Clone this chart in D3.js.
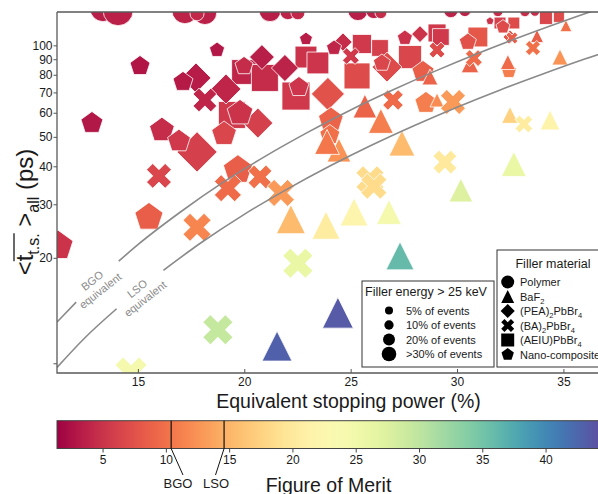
<!DOCTYPE html>
<html><head><meta charset="utf-8">
<script src="https://cdn.jsdelivr.net/npm/d3@7"></script>
<style>
body{margin:0;background:#fff}
svg{display:block}
text{font-family:"Liberation Sans",Arial,Helvetica,sans-serif;fill:#1a1a1a}
</style>
</head><body>
<svg id="c" width="598" height="494"></svg>
<script>
// ---- data: [equivalent stopping power %, <t> ps, figure of merit, % events > 25 keV] ----
const polymer = [
 [13.36,132,3.5,24],[14.07,130,3.6,32],[17.21,130,3.8,24],[18.15,128,3.6,20],[17.78,127,4.2,7],
 [21.21,130,3.5,17],[22.05,129,3.8,9],[22.52,128,4.2,7],[25.34,130,3.5,14],[26.09,130,3.7,9],
 [26.42,128,4.5,5],[29.71,130,3.8,7],[30.37,130,3.8,5],[31.92,129,4.5,3.5],[33.19,129,4.5,3.5],[33.66,129,4.5,3]
];
const aeiu = [
 [19.99,81.7,4,22],[20.97,78.1,4.5,26],[22.90,91.5,5,17],[23.46,87.5,5.2,17],[22.43,68.1,5.5,28],
 [25.30,79.3,7,24],[25.53,101,5.5,13],[26.38,98.0,6,10],[27.79,91.5,6.5,19],[29.06,109.8,5.5,11.5],
 [29.24,106.5,5.5,10],[30.98,106.5,8,14],[32.02,118.4,6,5],[32.67,118.4,7,5],[34.18,123,6.5,6],
 [34.79,124,7,4.3],[19.42,59.0,5.5,26]
];
const pea = [
 [17.78,44.6,6,29],[19.14,71.8,4,16],[17.73,78.1,3.3,16],[20.83,91.5,3.5,11],[21.91,84.2,3.8,13],
 [20.64,55.5,6,16],[23.93,69.2,7.5,19.5],[24.64,102.5,4.5,6],[26.71,84.8,7,16],[28.26,108.9,5,5],[32.49,106.5,8,3.5]
];
const nano = [
 [15.10,85.5,2.8,15.7],[12.84,55.5,3,19],[11.25,21.9,5,35],[15.52,27.2,8.5,31],[16.13,52.6,4.5,24],
 [16.93,48.4,5.5,20.5],[19.05,51.1,6.5,24],[19.70,38.9,8.5,33],[19.80,59.9,5,26],[18.72,96.5,3,9],
 [22.90,104.9,3.5,6.7],[17.12,75.8,3.2,15.7],[19.99,85.5,4.5,13],[22.57,72.9,5.2,15.7],[24.22,98.0,4,9],
 [26.47,87.5,6.5,11.5],[24.07,56.8,9,24],[24.02,50.7,10,15.7],[27.55,105.7,5,9],[28.40,81.7,8.5,19],
 [28.54,64.6,11,19],[30.51,102.5,7.5,11.5],[31.55,120.2,5,2.5],[32.16,114.9,7,7.8],[32.44,82.3,11,9]
];
const baf2 = [
 [22.19,26.8,15.5,30],[23.84,25.6,20.5,28],[25.16,28.3,22,28],[26.80,28.3,24.5,22],[27.32,20.3,36,28],
 [24.40,13.2,43.5,34],[21.54,10.25,43,32],[30.18,33.4,27.5,20],[32.67,40.7,26,22],[34.37,56.8,21.5,14],
 [32.49,59.0,17.5,10],[27.41,47.7,15.5,24],[24.45,45.2,12.5,20],[23.89,48.1,10.5,22],[25.67,63.1,9,20],
 [26.42,56.4,11,22],[28.73,78.7,9,9],[29.06,66.1,12,7],[30.61,86.8,9,11],[32.39,88.1,9.5,8],
 [33.76,107.3,8.5,6],[34.84,91.5,12.5,9],[35.12,116,10,5]
];
const ba = [
 [15.99,37.2,6.5,22],[17.78,25.2,11.5,28],[19.23,33.9,9.5,26],[20.74,36.9,10,20],[21.72,32.7,13,26],
 [25.91,36.1,18.5,28],[26.09,34.4,18.5,24],[22.52,19.2,26,32],[18.76,11.6,29.5,32],[14.68,8.36,24.5,36],
 [18.15,66.1,4,20],[25.01,92.2,5.5,10],[26.99,66.1,9.5,15],[29.81,65.1,13,22],[29.06,96.5,7,9],
 [30.79,90.8,9.5,10],[32.58,105.7,8.5,5],[33.57,98.0,10,8],[29.43,41.3,20,20],[33.14,55.1,20.5,11]
];
// reference curves, null = gap for label
const bgoX = [11.2,12.1,null,14.1,15,17,19,21,23,25,27,29,31,33,35,37,38.6];
const bgoY = [12.3,14.3,null,19.5,22.1,28.3,35.4,43.2,51.8,61.3,71.4,82.4,94.2,106.7,120,134.2,146];
const lsoX = [11.2,12.5,14.0,null,16.2,18,20,22,24,26,28,30,32,34,36,38.6];
const lsoY = [8.72,10.9,13.6,null,18.2,22.5,27.8,33.6,40.0,47.0,54.5,62.6,71.2,80.3,90.1,103.6];
const xTicks = [15,20,25,30,35];
const yTicks = [9,20,30,40,50,60,70,80,90,100];
const cbTicks = [5,10,15,20,25,30,35,40];
const refNames = ["BGO","LSO"];
const refFoM = [10.42,14.6];
const legendFractions = [5,10,20,30];
const legendFracLabels = ["5% of events","10% of events","20% of events",">30% of events"];
const materials = [
 {key:"circle",name:"Polymer",data:polymer},
 {key:"triangle",name:"BaF|2|",data:baf2},
 {key:"diamond",name:"(PEA)|2|PbBr|4|",data:pea},
 {key:"x",name:"(BA)|2|PbBr|4|",data:ba},
 {key:"square",name:"(AEIU)PbBr|4|",data:aeiu},
 {key:"pentagon",name:"Nano-composite",data:nano}
];
const drawOrder = ["circle","square","diamond","pentagon","triangle","x"];

// ---- scales ----
const svg = d3.select("#c");
const L=57, R=640, T=12, B=373;
const x = d3.scaleLinear().domain([11.198,38.6]).range([L,R]);
const y = d3.scaleLog().domain([8.36,128.7]).range([B,T]);
const cbX = d3.scaleLinear().domain([1.4,44.3]).range([57,600]);
const color = d3.scaleSequential(d3.interpolateSpectral).domain([1.4,44.3]);
const size = d3.scaleSqrt().domain([0,30]).range([0,29]);
const legSize = d3.scaleLinear().domain([5,30]).range([8,14.6]);

function shape(type,d){
  const h=d/2;
  switch(type){
    case "circle": return `M${h},0A${h},${h} 0 1,1 ${-h},0A${h},${h} 0 1,1 ${h},0Z`;
    case "square": return `M${-h},${-h}H${h}V${h}H${-h}Z`;
    case "diamond": {const r=d/Math.SQRT2; return `M0,${-r}L${r},0L0,${r}L${-r},0Z`;}
    case "triangle": return `M0,${-h}L${h},${h}L${-h},${h}Z`;
    case "pentagon": {
      const p=d3.range(5).map(k=>{const a=-Math.PI/2+k*2*Math.PI/5;return [h*Math.cos(a),h*Math.sin(a)];});
      return "M"+p.map(q=>q.join(",")).join("L")+"Z";}
    case "x": {
      const pts=[[-1,-2],[0,-1],[1,-2],[2,-1],[1,0],[2,1],[1,2],[0,1],[-1,2],[-2,1],[-1,0],[-2,-1]];
      return "M"+pts.map(q=>[q[0]*d/4,q[1]*d/4].join(",")).join("L")+"Z";}
  }
}

const defs = svg.append("defs");
defs.append("clipPath").attr("id","plotclip").append("rect")
  .attr("x",L).attr("y",T).attr("width",R-L).attr("height",B-T);

// ---- markers ----
const plot = svg.append("g").attr("clip-path","url(#plotclip)");
drawOrder.forEach(k=>{
  const m = materials.find(d=>d.key===k);
  plot.append("g").selectAll("path").data(m.data).join("path")
    .attr("transform",d=>`translate(${x(d[0])},${y(d[1])})`)
    .attr("d",d=>shape(k,size(d[3])))
    .attr("fill",d=>color(d[2]))
    .attr("stroke","#fff").attr("stroke-width",0.8);
});

// ---- reference curves ----
const line = d3.line().defined(d=>d[0]!==null).x(d=>x(d[0])).y(d=>y(d[1])).curve(d3.curveMonotoneX);
[[bgoX,bgoY],[lsoX,lsoY]].forEach(([xs,ys])=>{
  plot.append("path").datum(xs.map((v,i)=>[v,ys[i]])).attr("d",line)
    .attr("fill","none").attr("stroke","#8a8a8a").attr("stroke-width",1.6);
});
function curveLabel(cx,cy,l1,l2){
  const g=svg.append("g").attr("transform",`translate(${cx},${cy}) rotate(-38)`);
  g.append("text").attr("text-anchor","middle").attr("y",-3).style("font-size","11px").style("fill","#8a8a8a").text(l1);
  g.append("text").attr("text-anchor","middle").attr("y",10).style("font-size","11px").style("fill","#8a8a8a").text(l2);
}
curveLabel(96.5,286,"BGO","equivalent");
curveLabel(141.5,294,"LSO","equivalent");

// ---- axes ----
const xg = svg.append("g").attr("transform",`translate(0,${B})`)
  .call(d3.axisBottom(x).tickValues(xTicks).tickSize(-4).tickPadding(4.5));
const yg = svg.append("g").attr("transform",`translate(${L},0)`)
  .call(d3.axisLeft(y).tickValues(yTicks).tickFormat(d=>d===9?"":d).tickSize(3.5).tickPadding(1));
[xg,yg].forEach(g=>{
  g.select(".domain").remove();
  g.selectAll(".tick line").attr("stroke","#555").attr("stroke-width",1);
  g.selectAll("text").style("font-size","12px").attr("font-family",null).style("fill","#1a1a1a");
});
svg.append("path").attr("d",`M${L},${T}V${B}H${R}M${L},${T}H${R}`)
  .attr("fill","none").attr("stroke","#5a5a5a").attr("stroke-width",1.3);

svg.append("text").attr("x",348.5).attr("y",408).attr("text-anchor","middle")
  .style("font-size","19.5px").text("Equivalent stopping power (%)");

// y label
const ylg = svg.append("g").attr("transform","translate(33,212) rotate(-90)");
const yt = ylg.append("text").attr("text-anchor","middle").style("font-size","24px");
yt.append("tspan").text("<");
yt.append("tspan").text("t");
yt.append("tspan").attr("dy",6).style("font-size","16px").text("t.s.");
yt.append("tspan").attr("dy",-6).text(" >");
yt.append("tspan").attr("dy",6).style("font-size","16px").text("all");
yt.append("tspan").attr("dy",-6).text(" (ps)");
try{
  const n=yt.node();
  const x0=n.getStartPositionOfChar(1).x, x1=n.getEndPositionOfChar(5).x;
  ylg.append("line").attr("x1",x0).attr("x2",x1).attr("y1",-19).attr("y2",-19)
    .attr("stroke","#1a1a1a").attr("stroke-width",1.3);
}catch(e){}

// ---- legends ----
const lg1 = svg.append("g");
lg1.append("rect").attr("x",362).attr("y",281).attr("width",132).attr("height",86)
  .attr("fill","#fff").attr("stroke","#333").attr("stroke-width",1);
lg1.append("text").attr("x",365).attr("y",296).style("font-size","12.5px").text("Filler energy > 25 keV");
legendFractions.forEach((f,i)=>{
  const cy=310.5+i*14.5;
  lg1.append("circle").attr("cx",389).attr("cy",cy).attr("r",legSize(f)/2).attr("fill","#000");
  lg1.append("text").attr("x",406).attr("y",cy+4).style("font-size","11px").text(legendFracLabels[i]);
});

const lg2 = svg.append("g");
lg2.append("rect").attr("x",497).attr("y",250).attr("width",130).attr("height",117)
  .attr("fill","#fff").attr("stroke","#333").attr("stroke-width",1);
lg2.append("text").attr("x",553).attr("y",268).attr("text-anchor","middle").style("font-size","12.5px").text("Filler material");
materials.forEach((m,i)=>{
  const cy=282+i*14.5;
  lg2.append("path").attr("transform",`translate(507.7,${cy})`).attr("d",shape(m.key,m.key==="diamond"?10:13)).attr("fill","#000");
  const t=lg2.append("text").attr("x",520).attr("y",cy+4).style("font-size","11px");
  m.name.split("|").forEach((s,j)=>{
    if(!s) return;
    const ts=t.append("tspan").text(s);
    if(j%2===1) ts.attr("dy",3).style("font-size","7.5px");
    else if(j>0) ts.attr("dy",-3);
  });
});

// ---- colorbar ----
const grad = defs.append("linearGradient").attr("id","cbgrad").attr("x1","0%").attr("x2","100%");
d3.range(0,1.0001,0.02).forEach(t=>grad.append("stop").attr("offset",t).attr("stop-color",d3.interpolateSpectral(t)));
const cbTop=420.7, cbBot=448.5;
svg.append("rect").attr("x",cbX.range()[0]).attr("y",cbTop).attr("width",cbX.range()[1]-cbX.range()[0])
  .attr("height",cbBot-cbTop).attr("fill","url(#cbgrad)").attr("stroke","#444").attr("stroke-width",1);
const cg = svg.append("g").attr("transform",`translate(0,${cbBot})`)
  .call(d3.axisBottom(cbX).tickValues(cbTicks).tickSize(4).tickPadding(3));
cg.select(".domain").remove();
cg.selectAll(".tick line").attr("stroke","#444");
cg.selectAll("text").style("font-size","12px").attr("font-family",null);
const refLabelX = [178,216];
refFoM.forEach((f,i)=>{
  const px=cbX(f);
  svg.append("line").attr("x1",px).attr("x2",px).attr("y1",cbTop).attr("y2",cbBot).attr("stroke","#111").attr("stroke-width",1.2);
  svg.append("line").attr("x1",px).attr("y1",cbBot).attr("x2",refLabelX[i]+(i===0?5:-0.5)).attr("y2",475)
    .attr("stroke","#111").attr("stroke-width",1);
  svg.append("text").attr("x",refLabelX[i]).attr("y",487.5).attr("text-anchor","middle").style("font-size","13px").text(refNames[i]);
});
svg.append("text").attr("x",328.5).attr("y",491.5).attr("text-anchor","middle")
  .style("font-size","19.5px").text("Figure of Merit");
</script>
</body></html>
